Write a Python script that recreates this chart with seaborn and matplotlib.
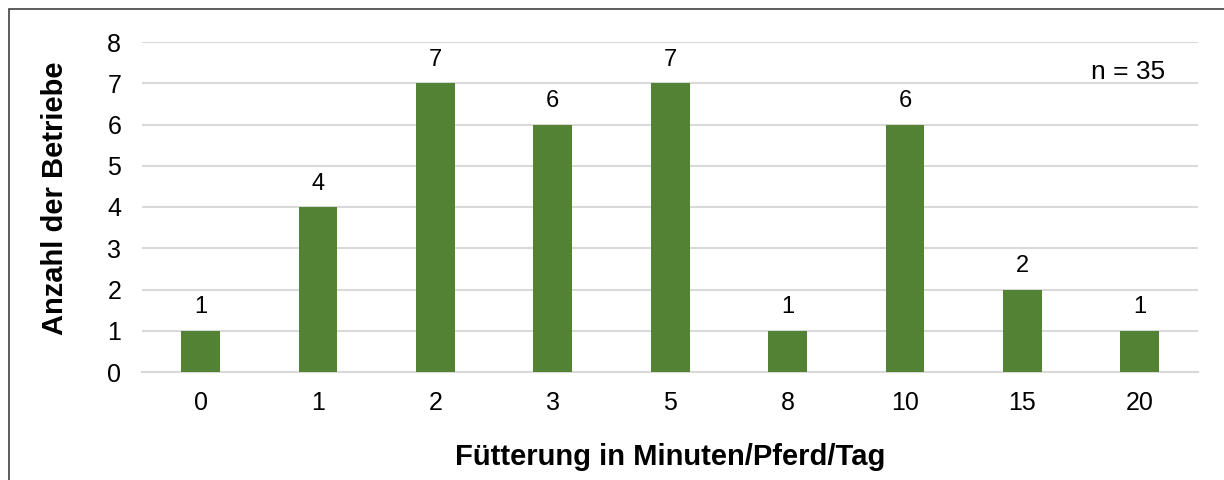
import matplotlib
matplotlib.use("Agg")
import matplotlib.pyplot as plt
import pandas as pd
import seaborn as sns
from matplotlib.patches import Rectangle

minuten = ["0", "1", "2", "3", "5", "8", "10", "15", "20"]
betriebe = [1, 4, 7, 6, 7, 1, 6, 2, 1]

df = pd.DataFrame({"minuten": minuten, "betriebe": betriebe})

sns.set_theme(style="white")
plt.rcParams["font.family"] = ["Liberation Sans", "DejaVu Sans"]
plt.rcParams["text.color"] = "black"
plt.rcParams["axes.labelcolor"] = "black"

fig = plt.figure(figsize=(12.24, 4.8), dpi=100)
ax = fig.add_axes([0.116, 0.225, 0.863, 0.6875])

sns.barplot(data=df, x="minuten", y="betriebe", color="#548235",
            saturation=1, width=0.33, linewidth=0, ax=ax, zorder=3)

ax.set_ylim(0, 8)
ax.set_xlim(-0.5, len(minuten) - 0.5)
ax.set_yticks(range(0, 9))
ax.yaxis.grid(True, color="#d9d9d9", linewidth=1.5, zorder=0)
ax.set_axisbelow(True)
for side in ["top", "right", "left"]:
    ax.spines[side].set_visible(False)
ax.spines["bottom"].set_color("#d9d9d9")
ax.spines["bottom"].set_linewidth(1.5)
ax.tick_params(axis="x", length=0, labelsize=18, colors="black", pad=14)
ax.tick_params(axis="y", length=0, labelsize=18, colors="black", pad=15)

for i, v in enumerate(betriebe):
    ax.annotate(str(v), (i, v), xytext=(0, 9), textcoords="offset points",
                ha="center", va="bottom", fontsize=17)

ax.set_xlabel("Fütterung in Minuten/Pferd/Tag", fontsize=21, fontweight="bold", va="center")
ax.set_ylabel("Anzahl der Betriebe", fontsize=21, fontweight="bold", va="center")
ax.xaxis.set_label_coords(0.5, (372 - 457) / 330)
ax.yaxis.set_label_coords((55 - 142) / 1056, 0.527)

fig.text(1128 / 1224, 1 - 72 / 480, "n = 35", fontsize=19, ha="center", va="center")

# Rahmen um das Diagramm
fig.patches.append(Rectangle((9 / 1224, -0.1), 1.2, 1 - 9 / 480 + 0.1,
                             transform=fig.transFigure, fill=False,
                             edgecolor="#404040", linewidth=1.2))

fig.savefig("out.png", dpi=100)
